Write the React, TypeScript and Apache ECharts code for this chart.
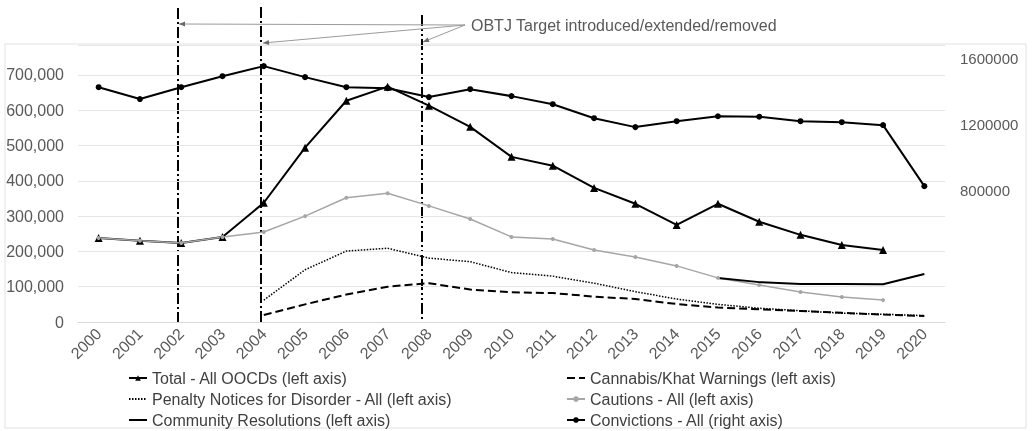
import React, { useEffect, useRef } from "react";
import * as echarts from "echarts";

const years = ["2000","2001","2002","2003","2004","2005","2006","2007","2008","2009","2010","2011","2012","2013","2014","2015","2016","2017","2018","2019","2020"];

const totalOOCDs = [238000, 230000, 224000, 241000, 338000, 494000, 627000, 667000, 613000, 553000, 468000, 443000, 380000, 335000, 275000, 335000, 284000, 247000, 218000, 204000, null];
const cannabisWarnings = [null, null, null, null, 20000, 50000, 78000, 100000, 110000, 92000, 84000, 82000, 72000, 65000, 51000, 41000, 36000, 31000, 26000, 21000, 17000];
const penaltyNotices = [null, null, null, null, 62000, 148000, 201000, 209000, 181000, 171000, 140000, 130000, 110000, 86000, 65000, 50000, 39000, 32000, 25000, 22000, 18000];
const cautions = [238000, 230000, 224000, 241000, 255000, 300000, 352000, 365000, 329000, 292000, 241000, 235000, 204000, 184000, 159000, 125000, 105000, 85000, 71000, 62000, null];
const communityResolutions = [null, null, null, null, null, null, null, null, null, null, null, null, null, null, null, 125000, 113000, 108000, 108000, 107000, 136000];
const convictions = [1424000, 1352000, 1424000, 1491000, 1552000, 1485000, 1424000, 1418000, 1364000, 1412000, 1370000, 1321000, 1236000, 1182000, 1218000, 1248000, 1245000, 1218000, 1212000, 1194000, 824000];

const leftTickLabels = [0, 100000, 200000, 300000, 400000, 500000, 600000, 700000];
const rightTickLabels = [800000, 1200000, 1600000];

const seriesNames = [
  "Total - All OOCDs (left axis)",
  "Cannabis/Khat Warnings (left axis)",
  "Penalty Notices for Disorder - All (left axis)",
  "Cautions - All (left axis)",
  "Community Resolutions (left axis)",
  "Convictions - All (right axis)",
];

const annotationText = "OBTJ Target introduced/extended/removed";

const FONT = "'Liberation Sans', Arial, sans-serif";

function arrow(sx: number, sy: number, ex: number, ey: number) {
  const dx = ex - sx, dy = ey - sy;
  const len = Math.sqrt(dx * dx + dy * dy);
  const ux = dx / len, uy = dy / len;
  const nx = -uy, ny = ux;
  const L = 6, W = 2.5;
  return [
    { type: "line", shape: { x1: sx, y1: sy, x2: ex, y2: ey }, style: { stroke: "#9a9a9a", lineWidth: 1 }, silent: true },
    {
      type: "polygon",
      shape: { points: [[ex, ey], [ex - ux * L + nx * W, ey - uy * L + ny * W], [ex - ux * L - nx * W, ey - uy * L - ny * W]] },
      style: { fill: "#6a6a6a" },
      silent: true,
    },
  ];
}

const legendBase = {
  orient: "vertical",
  top: 370,
  height: 80,
  itemWidth: 18,
  itemHeight: 7,
  itemGap: 5,
  padding: 0,
  textStyle: { fontSize: 16, color: "#404040", fontFamily: FONT, lineHeight: 16 },
  selectedMode: false,
};

const lineOnly = (name: string) => ({ name, itemStyle: { opacity: 0 } });

export default function App() {
  const ref = useRef<HTMLDivElement>(null);
  useEffect(() => {
    if (!ref.current) return;
    const chart = echarts.init(ref.current, null, { renderer: "svg" });
    const graphics: any[] = [
      { type: "rect", shape: { x: 5, y: 44, width: 1021, height: 384 }, style: { fill: "none", stroke: "#e2e2e2", lineWidth: 1 }, silent: true, z: -10 },
      { type: "line", shape: { x1: 178, y1: 8, x2: 178, y2: 322 }, style: { stroke: "#000", lineWidth: 2, lineDash: [11, 3, 2, 3] }, silent: true },
      { type: "line", shape: { x1: 261, y1: 7, x2: 261, y2: 322 }, style: { stroke: "#000", lineWidth: 2, lineDash: [11, 3, 2, 3] }, silent: true },
      { type: "line", shape: { x1: 422, y1: 15, x2: 422, y2: 322 }, style: { stroke: "#000", lineWidth: 2, lineDash: [11, 3, 2, 3, 2, 3] }, silent: true },
      ...arrow(465, 25, 179, 24),
      ...arrow(465, 25, 263, 43),
      ...arrow(465, 25, 423, 42),
      { type: "text", x: 471, y: 25, style: { text: annotationText, fontSize: 16, fontFamily: FONT, fill: "#595959", verticalAlign: "middle", align: "left" }, silent: true },
    ];
    chart.setOption({
      animation: false,
      textStyle: { fontFamily: FONT },
      grid: { left: 78, right: 88, top: 45, bottom: 109, containLabel: false },
      legend: [
        { ...legendBase, data: [seriesNames[0], lineOnly(seriesNames[2]), lineOnly(seriesNames[4])], left: 128 },
        { ...legendBase, data: [lineOnly(seriesNames[1]), seriesNames[3], seriesNames[5]], left: 566 },
      ],
      xAxis: {
        type: "category",
        data: years,
        boundaryGap: true,
        axisLine: { lineStyle: { color: "#d9d9d9" } },
        axisTick: { show: false },
        axisLabel: { rotate: 45, interval: 0, fontSize: 16, color: "#595959", margin: 9, fontFamily: FONT },
      },
      yAxis: [
        {
          type: "value",
          min: 0,
          max: 785000,
          interval: 100000,
          axisLine: { show: false },
          axisTick: { show: false },
          splitLine: { lineStyle: { color: "#e6e6e6" } },
          axisLabel: {
            fontSize: 16,
            color: "#595959",
            margin: 14,
            fontFamily: FONT,
            formatter: (v: number) => (leftTickLabels.includes(v) ? v.toLocaleString("en-US") : ""),
          },
        },
        {
          type: "value",
          position: "right",
          min: 0,
          max: 1680000,
          interval: 400000,
          axisLine: { show: false },
          axisTick: { show: false },
          splitLine: { show: false },
          axisLabel: {
            fontSize: 15,
            color: "#595959",
            margin: 15,
            fontFamily: FONT,
            formatter: (v: number) => (rightTickLabels.includes(v) ? String(v) : ""),
          },
        },
      ],
      series: [
        {
          name: seriesNames[0],
          type: "line",
          data: totalOOCDs,
          yAxisIndex: 0,
          symbol: "triangle",
          symbolSize: 8,
          showAllSymbol: true,
          lineStyle: { color: "#000", width: 2 },
          itemStyle: { color: "#000" },
        },
        {
          name: seriesNames[1],
          type: "line",
          data: cannabisWarnings,
          yAxisIndex: 0,
          symbol: "none",
          lineStyle: { color: "#000", width: 2, type: [8, 4] },
          itemStyle: { color: "#000" },
        },
        {
          name: seriesNames[2],
          type: "line",
          data: penaltyNotices,
          yAxisIndex: 0,
          symbol: "none",
          lineStyle: { color: "#000", width: 1.5, type: [1.5, 1.5] },
          itemStyle: { color: "#000" },
        },
        {
          name: seriesNames[3],
          type: "line",
          data: cautions,
          yAxisIndex: 0,
          symbol: "circle",
          symbolSize: 4,
          showAllSymbol: true,
          lineStyle: { color: "#a6a6a6", width: 1.5 },
          itemStyle: { color: "#a6a6a6" },
        },
        {
          name: seriesNames[4],
          type: "line",
          data: communityResolutions,
          yAxisIndex: 0,
          symbol: "none",
          lineStyle: { color: "#000", width: 2 },
          itemStyle: { color: "#000" },
        },
        {
          name: seriesNames[5],
          type: "line",
          data: convictions,
          yAxisIndex: 1,
          symbol: "circle",
          symbolSize: 6,
          showAllSymbol: true,
          lineStyle: { color: "#000", width: 2 },
          itemStyle: { color: "#000" },
        },
      ],
      graphic: graphics,
    });
    return () => chart.dispose();
  }, []);
  return <div ref={ref} style={{ position: "fixed", left: 0, top: 0, width: 1033, height: 431 }} />;
}
